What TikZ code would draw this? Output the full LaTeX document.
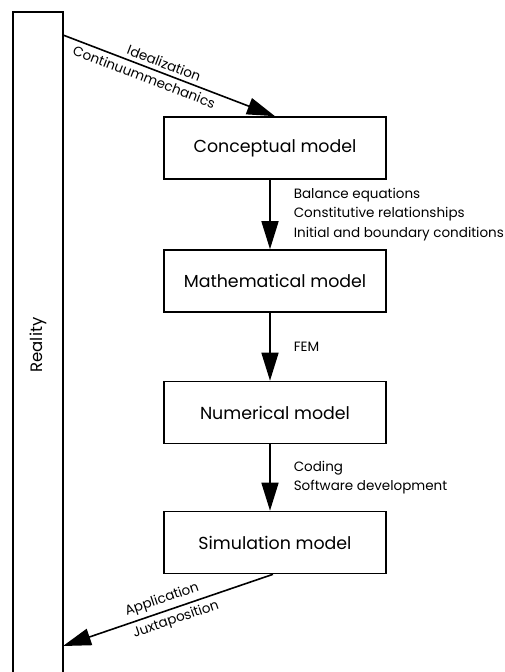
\documentclass[tikz,border=0pt]{standalone}
\usepackage{fontspec}
\setmainfont{Poppins}
\usetikzlibrary{arrows.meta}

\begin{document}
\begin{tikzpicture}[x=1pt, y=-1pt, line width=1.6pt,
    >={Triangle[length=28pt, width=17pt]},
    model/.style={draw, minimum width=222pt, minimum height=62pt, inner sep=0pt,
      font=\fontsize{17.4}{20}\selectfont},
    steplabel/.style={anchor=west, align=left, inner sep=0pt,
      font=\fontsize{13.5}{19.5}\selectfont},
    slopelabel/.style={sloped, inner sep=4pt, font=\fontsize{13.5}{15}\selectfont}]

  \useasboundingbox (0,0) rectangle (504,672);

  % Reality
  \node[draw, minimum width=50pt, minimum height=666pt, inner sep=0pt,
    font=\fontsize{16.5}{18}\selectfont] (reality) at (38,345)
    {\rotatebox{90}{Reality}};

  % Models
  \node[model] (conceptual) at (275,148) {Conceptual model};
  \node[model] (mathematical) at (275,281) {Mathematical model};
  \node[model] (numerical) at (275,412.5) {Numerical model};
  \node[model] (simulation) at (275,542.5) {Simulation model};

  % Idealization
  \coordinate (idealize) at (63,35);
  \draw[->] (idealize) -- (conceptual.north)
    node[slopelabel, pos=0.46, above] {Idealization}
    node[slopelabel, pos=0.40, below] {Continuummechanics};

  % Model steps
  \foreach \from/\to/\txt in {conceptual/mathematical/{Balance equations\\Constitutive relationships\\Initial and boundary conditions},
      mathematical/numerical/FEM,
      numerical/simulation/{Coding\\Software development}} {
    \draw[->] ([xshift=-5pt]\from.south) -- ([xshift=-5pt]\to.north)
      node[steplabel, midway, xshift=23pt] {\txt};
  }

  % Application
  \coordinate (apply) at (63,646);
  \draw[->] ([xshift=-2pt]simulation.south) -- (apply)
    node[slopelabel, pos=0.51, above] {Application}
    node[slopelabel, pos=0.48, below] {Juxtaposition};

\end{tikzpicture}
\end{document}
